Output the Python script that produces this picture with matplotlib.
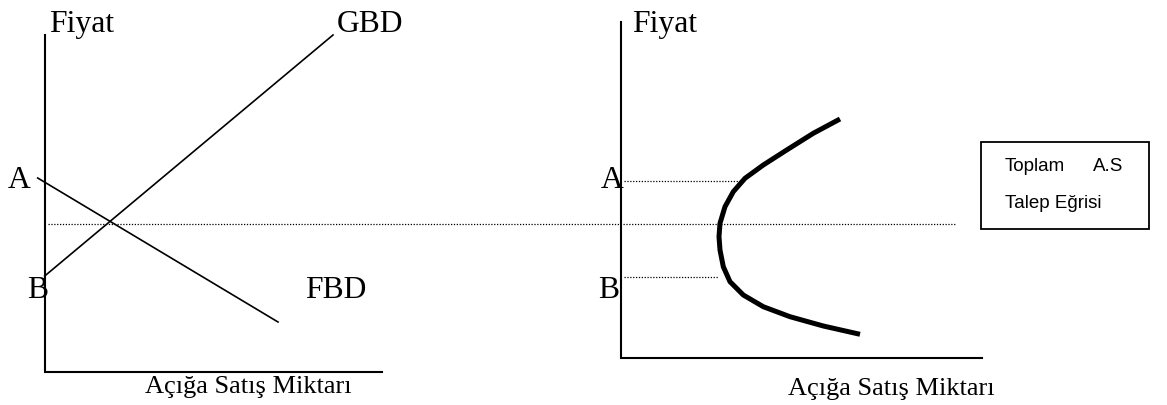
import matplotlib
matplotlib.use("Agg")
import matplotlib.pyplot as plt
from matplotlib.patches import Rectangle

# schematic drawn in picture coordinates (x right, y down)
# left panel: GBD / FBD lines
gbd_x = [44.7, 333]
gbd_y = [276, 35]
fbd_x = [37.7, 278]
fbd_y = [178, 322]

left_axis_x = [44.7, 44.7, 382]
left_axis_y = [35, 372, 372]

# right panel: total short-sale demand curve
curve_x = [840, 813.3, 786.7, 763.3, 745, 733.3, 725, 720, 719, 720,
           723.3, 730, 743.3, 763.3, 790, 823.3, 860]
curve_y = [119, 133.3, 150, 165, 178.3, 191.7, 206.7, 223.3, 236.7, 250,
           266.7, 281.7, 295, 306.7, 316.7, 326, 334.3]

right_axis_x = [621, 621, 982]
right_axis_y = [22, 358, 358]

# dotted guide lines (x0, x1, y)
guides = [(48, 955, 224), (624, 742, 181), (624, 718, 277)]

serif = ["Liberation Serif", "DejaVu Serif"]
sans = ["Liberation Sans", "DejaVu Sans"]
big = 22.8
axlab = 19

fig = plt.figure(figsize=(11.67, 4.05), dpi=100)
ax = fig.add_axes([0, 0, 1, 1])
ax.set_xlim(0, 1167)
ax.set_ylim(405, 0)
ax.axis("off")

ax.plot(left_axis_x, left_axis_y, color="black", lw=1.5, solid_joinstyle="miter")
ax.plot(right_axis_x, right_axis_y, color="black", lw=1.5, solid_joinstyle="miter")
ax.plot(gbd_x, gbd_y, color="black", lw=1.2)
ax.plot(fbd_x, fbd_y, color="black", lw=1.2)
ax.plot(curve_x, curve_y, color="black", lw=3.6, solid_capstyle="butt",
        solid_joinstyle="round")

for x0, x1, y in guides:
    ax.plot([x0, x1], [y, y], color="black", lw=0.9, linestyle=(0, (1, 1.3)))

# left panel texts
ax.text(49, 32, "Fiyat", family=serif, fontsize=big, va="baseline", ha="left")
ax.text(337, 32, "GBD", family=serif, fontsize=big, va="baseline", ha="left")
ax.text(8, 188, "A", family=serif, fontsize=big, va="baseline", ha="left")
ax.text(27, 298, "B", family=serif, fontsize=big, va="baseline", ha="left")
ax.text(305, 298, "FBD", family=serif, fontsize=big, va="baseline", ha="left")
ax.text(145, 393, "Açığa Satış Miktarı", family=serif, fontsize=axlab,
        va="baseline", ha="left")

# right panel texts
ax.text(632, 32, "Fiyat", family=serif, fontsize=big, va="baseline", ha="left")
ax.text(601, 188, "A", family=serif, fontsize=big, va="baseline", ha="left")
ax.text(598, 298, "B", family=serif, fontsize=big, va="baseline", ha="left")
ax.text(788, 395, "Açığa Satış Miktarı", family=serif, fontsize=axlab,
        va="baseline", ha="left")

# label box
ax.add_patch(Rectangle((981, 142), 168, 87, fill=False, edgecolor="black", lw=1.3))
ax.text(1005, 171, "Toplam", family=sans, fontsize=13.5, va="baseline", ha="left")
ax.text(1093, 171, "A.S", family=sans, fontsize=13.5, va="baseline", ha="left")
ax.text(1005, 208, "Talep Eğrisi", family=sans, fontsize=13.5, va="baseline", ha="left")

fig.savefig("out.png", dpi=100)
